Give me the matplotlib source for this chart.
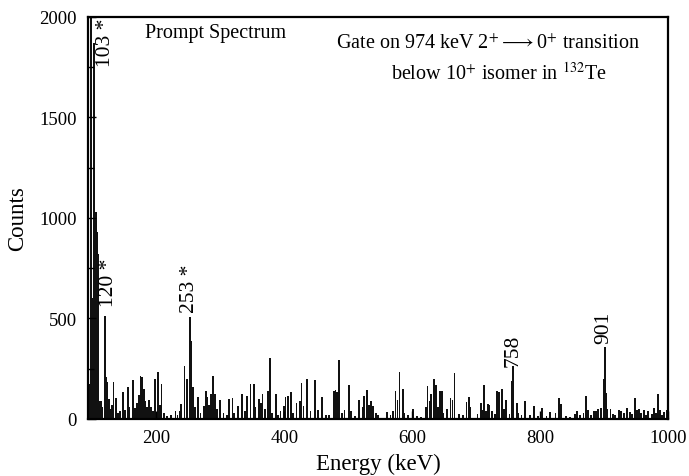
import matplotlib
matplotlib.use("Agg")
import matplotlib.pyplot as plt
from matplotlib.ticker import MultipleLocator

plt.rcParams["font.family"] = ["Liberation Serif", "DejaVu Serif"]
plt.rcParams["mathtext.fontset"] = "stix"

# peak positions (keV) and counts
energy = [
    94, 98, 101, 103, 105, 107, 109, 111, 113, 115, 119, 121, 123, 126, 129,
    131, 133, 137, 140, 143, 148, 151, 155, 158, 163, 167, 170, 173, 175, 177,
    181, 183, 185, 189, 192, 195, 198, 202, 205, 208, 212, 217, 223, 230, 233,
    236, 239, 244, 248, 252, 255, 257, 260, 265, 269, 274, 277, 279, 282, 285,
    288, 292, 295, 299, 305, 311, 314, 319, 321, 328, 334, 338, 342, 347, 352,
    355, 360, 363, 366, 370, 374, 378, 381, 387, 390, 394, 400, 402, 406, 410,
    414, 419, 424, 427, 430, 436, 441, 448, 453, 459, 465, 470, 478, 480, 482,
    486, 490, 494, 501, 504, 510, 517, 523, 525, 529, 533, 536, 539, 543, 547,
    560, 566, 570, 574, 577, 580, 585, 588, 594, 601, 608, 614, 621, 624, 627,
    630, 634, 637, 640, 643, 646, 649, 654, 660, 663, 666, 673, 680, 685, 689,
    691, 702, 707, 710, 712, 715, 718, 721, 725, 729, 733, 736, 740, 744, 747,
    752, 756, 758, 764, 766, 771, 777, 784, 790, 797, 803, 810, 816, 824, 829,
    833, 840, 847, 854, 858, 863, 868, 872, 875, 880, 884, 888, 891, 895, 899,
    901, 903, 905, 910, 914, 917, 923, 927, 931, 936, 941, 944, 948, 952, 955,
    958, 962, 966, 969, 975, 978, 981, 984, 988, 991, 994, 999,
]
counts = [
    175, 2100, 600, 1870, 1030, 930, 820, 91, 90, 60, 514, 208, 185, 100, 50,
    70, 185, 105, 30, 40, 135, 45, 160, 60, 195, 55, 80, 120, 215, 210,
    150, 90, 60, 95, 60, 40, 200, 235, 70, 175, 30, 15, 20, 40, 20,
    40, 75, 265, 200, 507, 390, 160, 60, 110, 30, 65, 140, 110, 70, 125,
    215, 125, 50, 95, 30, 20, 100, 105, 30, 65, 125, 40, 115, 175, 175,
    60, 100, 80, 125, 50, 140, 305, 30, 125, 20, 40, 65, 110, 115, 135,
    30, 80, 90, 180, 65, 200, 40, 195, 45, 110, 20, 20, 140, 145, 135,
    295, 30, 45, 170, 40, 15, 95, 60, 115, 145, 70, 90, 65, 30, 20,
    35, 20, 40, 140, 95, 235, 150, 30, 20, 50, 15, 10, 60, 165, 90,
    125, 200, 170, 60, 140, 140, 30, 50, 105, 95, 230, 25, 20, 85, 110,
    60, 25, 80, 45, 170, 40, 75, 70, 40, 25, 140, 135, 150, 50, 95,
    25, 190, 265, 80, 30, 20, 90, 20, 65, 15, 55, 15, 35, 30, 105,
    75, 15, 10, 25, 40, 20, 30, 115, 45, 20, 40, 40, 50, 55, 200,
    357, 130, 50, 50, 25, 20, 45, 40, 30, 55, 35, 25, 105, 45, 50,
    30, 45, 20, 40, 25, 55, 30, 125, 45, 20, 35, 45,
]

# peak labels: text, x (keV), y (counts) of the label foot
label_text = ["103 *", "120 *", "253 *", "758", "901"]
label_x = [121, 125, 252, 758, 900]
label_y = [1756, 562, 532, 262, 380]

fig = plt.figure(figsize=(6.89, 4.77), dpi=100)
ax = fig.add_axes([0.1277, 0.1195, 0.8418, 0.8428])

ax.bar(energy, counts, width=2.8, color="#111111", linewidth=0)

for t, x, y in zip(label_text, label_x, label_y):
    ax.text(x, y, t, rotation=90, ha="center", va="bottom", fontsize=15.5)

ax.text(0.098, 0.962, "Prompt Spectrum", transform=ax.transAxes,
        ha="left", va="center", fontsize=14.5)
ax.text(0.69, 0.935,
        r"Gate on 974 keV 2$^{+}$$\longrightarrow$0$^{+}$ transition",
        transform=ax.transAxes, ha="center", va="center", fontsize=14.5)
ax.text(0.708, 0.862, r"below 10$^{+}$ isomer in $^{132}$Te",
        transform=ax.transAxes, ha="center", va="center", fontsize=14.5)

ax.set_xlim(93, 1000)
ax.set_ylim(0, 2000)
ax.set_xticks([200, 400, 600, 800, 1000])
ax.set_yticks([0, 500, 1000, 1500, 2000])
ax.yaxis.set_minor_locator(MultipleLocator(250))
ax.tick_params(direction="in", labelsize=13.5, length=6, width=1)
ax.tick_params(which="minor", direction="in", length=4, width=1)
ax.tick_params(axis="x", pad=7)
ax.tick_params(axis="y", pad=8)

for s in ax.spines.values():
    s.set_linewidth(1.6)

ax.set_xlabel("Energy (keV)", fontsize=16.5, labelpad=5)
ax.set_ylabel("Counts", fontsize=16.5, labelpad=8)

fig.savefig("out.png", dpi=100)
